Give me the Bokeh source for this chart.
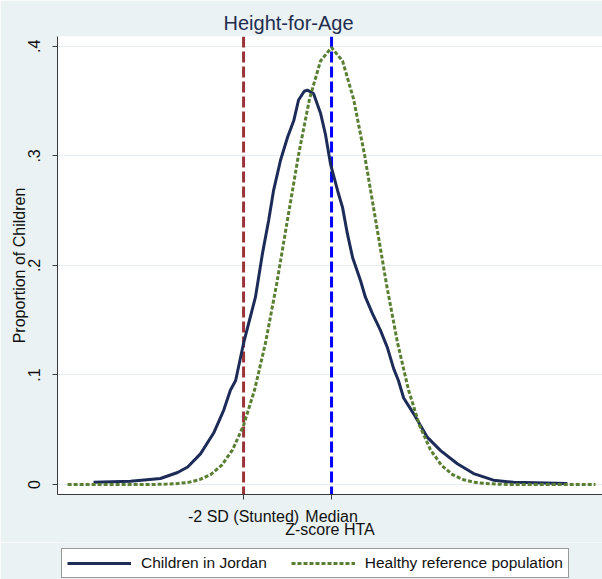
from bokeh.plotting import figure
from bokeh.layouts import column
from bokeh.models import Span, Legend, LegendItem, FixedTicker, Range1d
from bokeh.embed import file_html
from bokeh.resources import INLINE

# ---- data ----
jordan_z = [-5.41, -4.57, -3.89, -3.50, -3.27, -2.98, -2.68, -2.45, -2.30, -2.18,
            -2.00, -1.73, -1.57, -1.43, -1.32, -1.16, -1.00, -0.86, -0.75, -0.62,
            -0.55, -0.41, -0.25, -0.14, -0.02, 0.14, 0.25, 0.36, 0.48, 0.66,
            0.77, 0.93, 1.11, 1.27, 1.41, 1.52, 1.64, 1.86, 2.18, 2.48,
            2.86, 3.23, 3.68, 4.14, 5.36]
jordan_p = [0.002, 0.003, 0.0055, 0.011, 0.016, 0.028, 0.047, 0.068, 0.086, 0.095,
            0.129, 0.171, 0.211, 0.241, 0.268, 0.296, 0.317, 0.332, 0.351, 0.359,
            0.360, 0.357, 0.339, 0.320, 0.292, 0.268, 0.253, 0.229, 0.207, 0.186,
            0.171, 0.156, 0.141, 0.125, 0.106, 0.095, 0.079, 0.065, 0.043, 0.031,
            0.019, 0.010, 0.004, 0.002, 0.001]

ref_z = [-6.0, -5.5, -5.0, -4.5, -4.0, -3.75, -3.5, -3.25, -3.0, -2.75, -2.5, -2.25,
         -2.0, -1.75, -1.5, -1.25, -1.0, -0.75, -0.5, -0.25, 0.0, 0.25, 0.5, 0.75,
         1.0, 1.25, 1.5, 1.75, 2.0, 2.25, 2.5, 2.75, 3.0, 3.25, 3.5, 3.75, 4.0,
         4.5, 5.0, 5.5, 6.0]
ref_p = [0.0, 0.0, 0.0, 0.0, 0.0001, 0.0004, 0.0009, 0.0020, 0.0044, 0.0091, 0.0175, 0.0317,
         0.0540, 0.0863, 0.1295, 0.1826, 0.2420, 0.3011, 0.3521, 0.3867, 0.3989, 0.3867, 0.3521, 0.3011,
         0.2420, 0.1826, 0.1295, 0.0863, 0.0540, 0.0317, 0.0175, 0.0091, 0.0044, 0.0020, 0.0009, 0.0004, 0.0001,
         0.0, 0.0, 0.0, 0.0]

cut_values = [-2, 0]            # stunting cut-off, median
x_tick_values = [-2, 0]
x_tick_labels = ["-2 SD (Stunted)", "Median"]
y_tick_values = [0, 0.1, 0.2, 0.3, 0.4]
y_tick_labels = ["0", ".1", ".2", ".3", ".4"]
series_labels = ["Children in Jordan", "Healthy reference population"]

# ---- styling ----
FONT = "Liberation Sans"
BG = "#EAF2F3"
NAVY = "#1C2B58"
GREEN = "#5A7F32"
RED = "#9B3439"
BLUE = "#0000FF"
JORDAN_STYLE = dict(line_color=NAVY, line_width=3)
REF_STYLE = dict(line_color=GREEN, line_width=3, line_dash="4 2")

p = figure(width=602, height=542, output_backend="svg", toolbar_location=None,
           x_range=Range1d(-6.23, 6.16), y_range=Range1d(-0.0091, 0.409),
           min_border_left=57, min_border_right=0, min_border_top=36, min_border_bottom=48,
           background_fill_color="white", border_fill_color=BG, outline_line_color=None,
           title="Height-for-Age")

p.title.text_font = FONT
p.title.text_font_size = "20px"
p.title.text_font_style = "normal"
p.title.text_color = "#1E2D4F"
p.title.align = "left"
p.title.offset = 166
p.title.standoff = 6

# grid
p.xgrid.visible = False
p.ygrid.grid_line_color = "#E4EDF0"
p.ygrid.grid_line_width = 1
p.ygrid.ticker = FixedTicker(ticks=y_tick_values)

# reference lines
styles = [dict(color=RED), dict(color=BLUE)]
for v, st in zip(cut_values, styles):
    p.add_layout(Span(location=v, dimension="height", line_color=st["color"],
                      line_width=3, line_dash="11 4", level="underlay"))

p.line(jordan_z, jordan_p, **JORDAN_STYLE)
p.line(ref_z, ref_p, **REF_STYLE)

# axes
for ax in (p.xaxis[0], p.yaxis[0]):
    ax.axis_line_color = "#3A3A3A"
    ax.axis_line_width = 1
    ax.major_tick_line_color = "#3A3A3A"
    ax.major_tick_out = 5
    ax.major_tick_in = 0
    ax.minor_tick_line_color = None
    ax.major_label_text_font = FONT
    ax.major_label_text_font_size = "16px"
    ax.major_label_text_color = "#111111"
    ax.axis_label_text_font = FONT
    ax.axis_label_text_font_size = "16px"
    ax.axis_label_text_font_style = "normal"
    ax.axis_label_text_color = "#111111"

p.xaxis.ticker = FixedTicker(ticks=x_tick_values)
p.xaxis.major_label_overrides = dict(zip(x_tick_values, x_tick_labels))
p.xaxis.axis_label = "Z-score HTA"
p.xaxis.major_label_standoff = 8
p.xaxis.axis_label_standoff = -7

p.yaxis.ticker = FixedTicker(ticks=y_tick_values)
p.yaxis.major_label_overrides = dict(zip(y_tick_values, y_tick_labels))
p.yaxis.major_label_orientation = "vertical"
p.yaxis.axis_label = "Proportion of Children"
p.yaxis.major_label_standoff = 12
p.yaxis.axis_label_standoff = -2

# ---- legend strip (same two series, drawn out of view; only the legend shows) ----
q = figure(width=602, height=37, output_backend="svg", toolbar_location=None,
           x_range=Range1d(100, 101), y_range=Range1d(100, 101),
           min_border_left=0, min_border_right=0, min_border_top=0, min_border_bottom=0,
           background_fill_color=BG, border_fill_color=BG, outline_line_color=None)
q.axis.visible = False
q.grid.visible = False
l1 = q.line(jordan_z, jordan_p, **JORDAN_STYLE)
l2 = q.line(ref_z, ref_p, **REF_STYLE)

legend = Legend(items=[LegendItem(label=series_labels[0], renderers=[l1]),
                       LegendItem(label=series_labels[1], renderers=[l2])],
                orientation="horizontal", location=(4, 1),
                border_line_color="#333333", border_line_width=1,
                background_fill_color="white", background_fill_alpha=1,
                label_text_font=FONT, label_text_font_size="15.5px", label_text_color="#111111",
                glyph_width=64, glyph_height=18, label_height=18,
                padding=5, spacing=24, label_standoff=10, margin=0)
q.add_layout(legend)

layout = column(p, q, spacing=0)
open("out.html", "w").write(file_html(layout, INLINE))
